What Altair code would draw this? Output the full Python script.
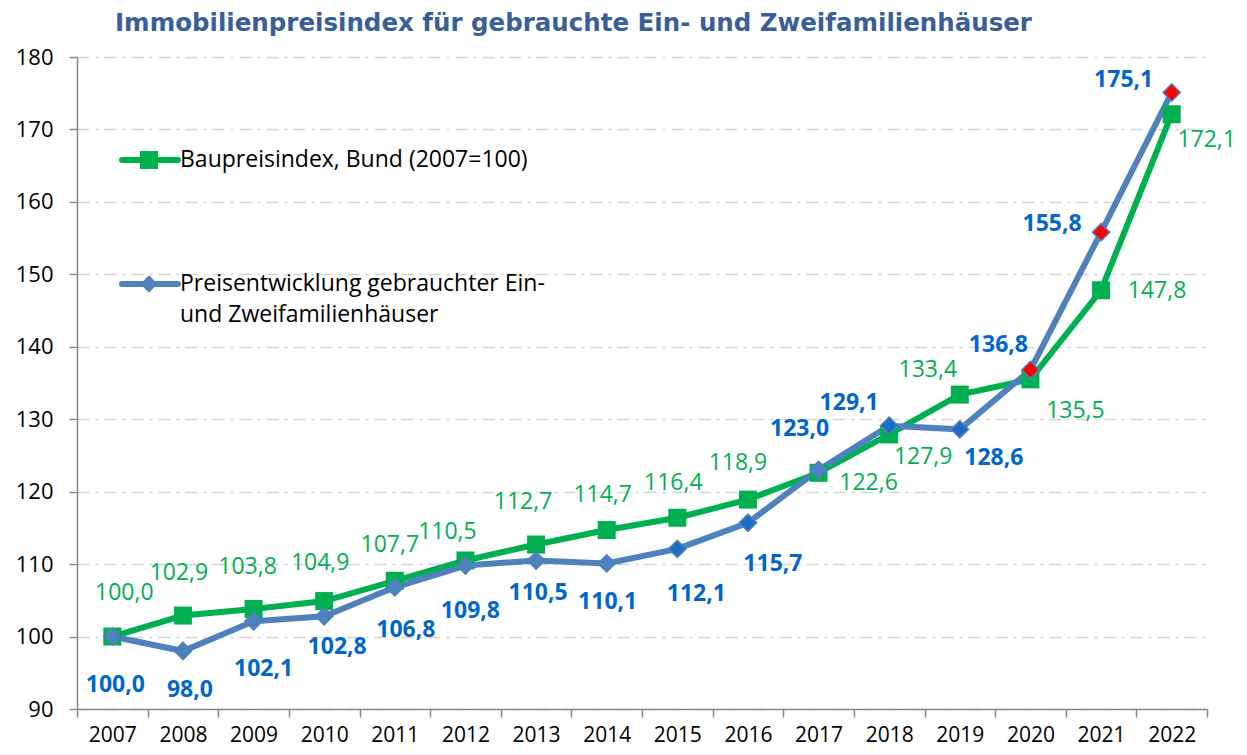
import altair as alt
import pandas as pd

# ---- data ----
years = ["2007", "2008", "2009", "2010", "2011", "2012", "2013", "2014",
         "2015", "2016", "2017", "2018", "2019", "2020", "2021", "2022"]
baupreis = [100.0, 102.9, 103.8, 104.9, 107.7, 110.5, 112.7, 114.7,
            116.4, 118.9, 122.6, 127.9, 133.4, 135.5, 147.8, 172.1]
immo = [100.0, 98.0, 102.1, 102.8, 106.8, 109.8, 110.5, 110.1,
        112.1, 115.7, 123.0, 129.1, 128.6, 136.8, 155.8, 175.1]

# label offsets in pixels relative to the point (style, not data)
bau_dx = [12, -4, -6, -4, -5, -18, -13, -4, -4, -10, 50, 34, -32, 45, 56, 35]
bau_dy = [-44, -43, -42, -38, -36, -28, -43, -35, -35, -37, 10, 23, -25, 32, 1, 26]
immo_dx = [3, 7, 10, 13, 11, 5, 2, 1, 19, 25, -19, -40, 34, -32, -49, -48]
immo_dy = [48, 39, 48, 31, 43, 45, 33, 39, 45, 41, -41, -23, 29, -25, -8, -12]
immo_marker = ["#4F81BD"] * 8 + ["#1F6DC2", "#1F6DC2", "#4F81BD", "#1F6DC2", "#1F6DC2",
                                  "#FF0000", "#FF0000", "#FF0000"]

GREEN = "#00B050"
BLUE_LINE = "#4F81BD"
BLUE_TXT = "#0066CC"
FONT = "Open Sans"

W, H = 1130, 652
Y_MIN, Y_MAX = 90, 180
HALF_BAND = W / len(years) / 2
PX_PER_UNIT = H / (Y_MAX - Y_MIN)


def fmt(v):
    return f"{v:.1f}".replace(".", ",")


df = pd.DataFrame({
    "year": years,
    "bau": baupreis,
    "immo": immo,
    "bau_lbl": [fmt(v) for v in baupreis],
    "immo_lbl": [fmt(v) for v in immo],
    "bau_dx": bau_dx, "bau_dy": bau_dy,
    "immo_dx": immo_dx, "immo_dy": immo_dy,
    "immo_marker": immo_marker,
})

x_enc = alt.X(
    "year:N", sort=years, bandPosition=0.5,
    scale=alt.Scale(type="band", paddingInner=0, paddingOuter=0),
    axis=alt.Axis(title=None, labelAngle=0, tickBand="extent", tickSize=8,
                  labelFontSize=21, labelFont=FONT, labelColor="#000000",
                  labelPadding=7, domainColor="#898989", domainWidth=1.5,
                  tickColor="#898989", tickWidth=1.5, grid=False),
)
y_scale = alt.Scale(domain=[Y_MIN, Y_MAX], nice=False, zero=False)
y_axis = alt.Axis(title=None, values=list(range(Y_MIN, Y_MAX + 1, 10)), tickSize=8,
                  labelFontSize=22, labelFont=FONT, labelColor="#000000",
                  labelPadding=16, domainColor="#898989", domainWidth=1.5,
                  tickColor="#898989", tickWidth=1.5,
                  grid=True, gridColor="#D4D4D4", gridWidth=1.5,
                  gridDash=[12, 6, 3, 6])


def yq(field):
    return alt.Y(f"{field}:Q", scale=y_scale, axis=y_axis)


base = alt.Chart(df).transform_calculate(
    bau_ly=f"datum.bau - datum.bau_dy / {PX_PER_UNIT}",
    immo_ly=f"datum.immo - datum.immo_dy / {PX_PER_UNIT}",
    bau_lx=f"datum.bau_dx + {HALF_BAND}",
    immo_lx=f"datum.immo_dx + {HALF_BAND}",
)

bau_line = base.mark_line(color=GREEN, strokeWidth=6).encode(x=x_enc, y=yq("bau"))
bau_pts = base.mark_point(shape="square", filled=True, size=324, color=GREEN, opacity=1).encode(
    x=x_enc, y=yq("bau"))
immo_line = base.mark_line(color=BLUE_LINE, strokeWidth=6).encode(x=x_enc, y=yq("immo"))
immo_pts = base.mark_point(shape="diamond", filled=True, size=300, opacity=1,
                           stroke=BLUE_LINE, strokeWidth=1.5).encode(
    x=x_enc, y=yq("immo"), fill=alt.Fill("immo_marker:N", scale=None))

bau_txt = base.mark_text(font=FONT, fontSize=23, color=GREEN).encode(
    x=x_enc, y=yq("bau_ly"), text="bau_lbl:N",
    xOffset=alt.XOffset("bau_lx:Q", scale=None))
immo_txt = base.mark_text(font=FONT, fontSize=23, fontWeight="bold", color=BLUE_TXT).encode(
    x=x_enc, y=yq("immo_ly"), text="immo_lbl:N",
    xOffset=alt.XOffset("immo_lx:Q", scale=None))

# ---- manual legend ----
leg = alt.Chart(pd.DataFrame({"k": [0]}))
leg1_line = leg.mark_rule(color=GREEN, strokeWidth=6, strokeCap="round").encode(
    x=alt.value(45), x2=alt.value(101), y=alt.value(103))
leg1_pt = leg.mark_point(shape="square", filled=True, size=324, color=GREEN, opacity=1).encode(
    x=alt.value(72), y=alt.value(103))
leg1_txt = leg.mark_text(align="left", font=FONT, fontSize=23, color="#000000").encode(
    x=alt.value(103), y=alt.value(103), text=alt.value("Baupreisindex, Bund (2007=100)"))
leg2_line = leg.mark_rule(color=BLUE_LINE, strokeWidth=6, strokeCap="round").encode(
    x=alt.value(45), x2=alt.value(101), y=alt.value(227))
leg2_pt = leg.mark_point(shape="diamond", filled=True, size=300, color=BLUE_LINE, opacity=1).encode(
    x=alt.value(72), y=alt.value(227))
leg2_txt1 = leg.mark_text(align="left", font=FONT, fontSize=23, color="#000000").encode(
    x=alt.value(103), y=alt.value(227), text=alt.value("Preisentwicklung gebrauchter Ein-"))
leg2_txt2 = leg.mark_text(align="left", font=FONT, fontSize=23, color="#000000").encode(
    x=alt.value(103), y=alt.value(258), text=alt.value("und Zweifamilienhäuser"))

chart = alt.layer(
    bau_line, immo_line, bau_pts, immo_pts, bau_txt, immo_txt,
    leg1_line, leg1_pt, leg1_txt, leg2_line, leg2_pt, leg2_txt1, leg2_txt2,
).properties(
    width=W, height=H,
    title=alt.TitleParams("Immobilienpreisindex für gebrauchte Ein- und Zweifamilienhäuser",
                          anchor="start", frame="group", dx=38, offset=10,
                          font="DejaVu Sans", fontSize=24.5, fontWeight="bold",
                          color="#3A5E97"),
    autosize=alt.AutoSizeParams(type="none"),
    padding={"left": 69, "top": 49, "right": 30, "bottom": 38},
).configure(background="white").configure_view(stroke=None)

chart.save("out.html", embed_options={"renderer": "svg", "actions": False})
